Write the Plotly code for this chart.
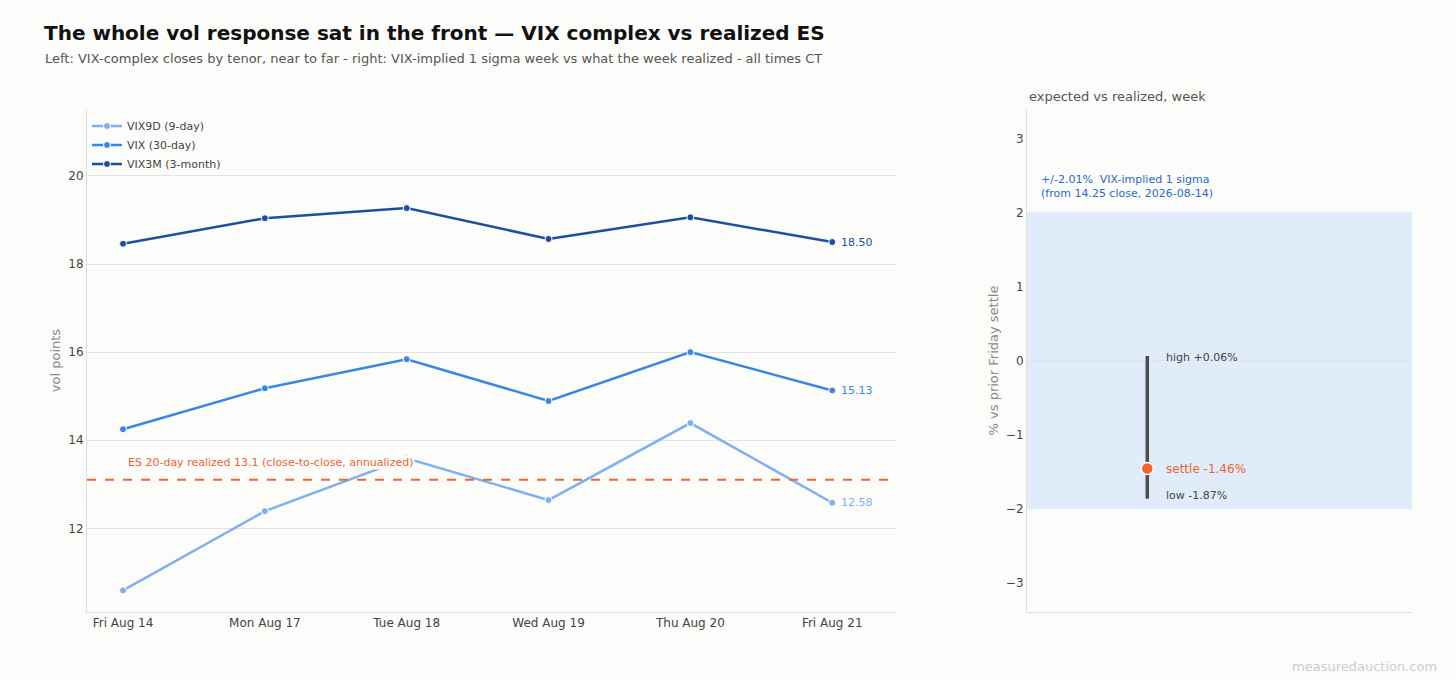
import plotly.graph_objects as go
from plotly.subplots import make_subplots

# data
days = ["Fri Aug 14", "Mon Aug 17", "Tue Aug 18", "Wed Aug 19", "Thu Aug 20", "Fri Aug 21"]
vix9d = [10.59, 12.39, 13.59, 12.64, 14.39, 12.58]
vix = [14.25, 15.18, 15.84, 14.89, 16.00, 15.13]
vix3m = [18.46, 19.04, 19.27, 18.57, 19.06, 18.50]
es_realized = 13.1

implied_sigma = 2.01
week_high = 0.06
week_low = -1.87
week_settle = -1.46

series = [
    ("VIX9D (9-day)", vix9d, "#7eb1ef"),
    ("VIX (30-day)", vix, "#3a87e3"),
    ("VIX3M (3-month)", vix3m, "#1c4f9c"),
]

FONT = "DejaVu Sans"
BG = "#fcfcfb"

fig = make_subplots(rows=1, cols=2, horizontal_spacing=0.1)

for name, vals, color in series:
    fig.add_trace(go.Scatter(
        x=days, y=vals, name=name, mode="lines+markers",
        line={"color": color, "width": 2.5},
        marker={"color": color, "size": 7, "line": {"color": "white", "width": 1}},
    ), row=1, col=1)
    fig.add_annotation(
        x=days[-1], y=vals[-1], xref="x", yref="y", text=f"{vals[-1]:.2f}",
        showarrow=False, xanchor="left", xshift=7,
        font={"color": color, "size": 11, "family": FONT},
    )

# realized vol line
fig.add_shape(type="line", xref="x domain", yref="y", x0=0, x1=1, y0=es_realized, y1=es_realized,
              line={"color": "#ee6530", "width": 2, "dash": "dash"})
fig.add_annotation(
    xref="x domain", yref="y", x=0.049, y=es_realized, yshift=17, xanchor="left",
    text=f"ES 20-day realized {es_realized} (close-to-close, annualized)",
    showarrow=False, bgcolor=BG, borderpad=0,
    font={"color": "#ee6530", "size": 11, "family": FONT},
)

# right panel: implied band + realized range
fig.add_shape(type="rect", xref="x2 domain", yref="y2", x0=0, x1=1, y0=-implied_sigma, y1=implied_sigma,
              fillcolor="#e0ecfa", line={"width": 0}, layer="below")
fig.add_trace(go.Scatter(
    x=[0, 0], y=[week_low, week_high], mode="lines",
    line={"color": "#4d4d4d", "width": 3.5}, showlegend=False, hoverinfo="skip",
), row=1, col=2)
fig.add_trace(go.Scatter(
    x=[0], y=[week_settle], mode="markers",
    marker={"color": "#ee6530", "size": 12, "line": {"color": "white", "width": 1.5}},
    showlegend=False,
), row=1, col=2)

for y, label, color, dy in [
    (week_high, f"high {week_high:+.2f}%", "#444444", -1),
    (week_settle, f"settle {week_settle:.2f}%", "#ee6530", 0),
    (week_low, f"low {week_low:.2f}%", "#444444", 3),
]:
    fig.add_annotation(x=0, y=y, xref="x2", yref="y2", text=label, showarrow=False,
                       xanchor="left", xshift=17, yshift=dy,
                       font={"color": color, "size": 12 if y == week_settle else 11, "family": FONT})

fig.add_annotation(
    xref="x2 domain", yref="y2", x=0.03, y=implied_sigma, yshift=10, xanchor="left", yanchor="bottom",
    align="left", showarrow=False,
    text=f"+/-{implied_sigma:.2f}%  VIX-implied 1 sigma<br>(from {vix[0]:.2f} close, 2026-08-14)",
    font={"color": "#2a6bc7", "size": 11, "family": FONT},
)

fig.add_annotation(xref="x2 domain", yref="paper", x=0, y=1.005, xanchor="left", yanchor="bottom",
                   text="expected vs realized, week", showarrow=False,
                   font={"color": "#555555", "size": 13, "family": FONT})

# title / subtitle / credit
fig.add_annotation(xref="paper", yref="paper", x=-0.033, y=1.101, xanchor="left", yanchor="middle",
                   text="Left: VIX-complex closes by tenor, near to far - right: VIX-implied 1 sigma week vs what the week realized - all times CT",
                   showarrow=False, font={"color": "#555555", "size": 13, "family": FONT})
fig.add_annotation(xref="paper", yref="paper", x=1.02, y=-0.09, xanchor="right", yanchor="top",
                   text="measuredauction.com", showarrow=False,
                   font={"color": "#cccccc", "size": 13, "family": FONT})

fig.update_layout(
    width=1456, height=680,
    paper_bgcolor=BG, plot_bgcolor=BG,
    font={"family": FONT, "color": "#444444", "size": 12},
    margin={"l": 87, "r": 44, "t": 109, "b": 68},
    title={"text": "<b>The whole vol response sat in the front — VIX complex vs realized ES</b>",
           "x": 44 / 1456, "xanchor": "left", "y": 0.951, "yanchor": "middle",
           "font": {"size": 20, "color": "#111111", "family": FONT}},
    legend={"x": 0.0, "y": 0.995, "xanchor": "left", "yanchor": "top", "bgcolor": "rgba(0,0,0,0)",
            "font": {"size": 11, "color": "#444444"}, "tracegroupgap": 0, "itemwidth": 30},
    showlegend=True,
    xaxis={"domain": [0, 0.6106], "range": [-0.254, 5.45], "showgrid": False, "showline": True,
           "linecolor": "#dddddd", "ticks": "", "tickfont": {"size": 12}},
    yaxis={"range": [10.1, 21.52], "tickvals": [12, 14, 16, 18, 20], "showgrid": True, "gridcolor": "#e3e3e3",
           "showline": True, "linecolor": "#dddddd", "zeroline": False,
           "title": {"text": "vol points", "font": {"color": "#888888", "size": 13}, "standoff": 4}},
    xaxis2={"domain": [0.7094, 1], "range": [-0.5, 1.1], "showgrid": False, "showticklabels": False,
            "showline": True, "linecolor": "#dddddd", "zeroline": False, "ticks": ""},
    yaxis2={"range": [-3.4, 3.4], "tickvals": [-3, -2, -1, 0, 1, 2, 3], "showgrid": False,
            "showline": True, "linecolor": "#dddddd", "zeroline": True, "zerolinecolor": "#e3e3e3",
            "zerolinewidth": 1,
            "title": {"text": "% vs prior Friday settle", "font": {"color": "#888888", "size": 13},
                      "standoff": 4}},
)

fig.write_html("out.html", config={"displayModeBar": False},
               post_script="document.body.style.margin='0';")
